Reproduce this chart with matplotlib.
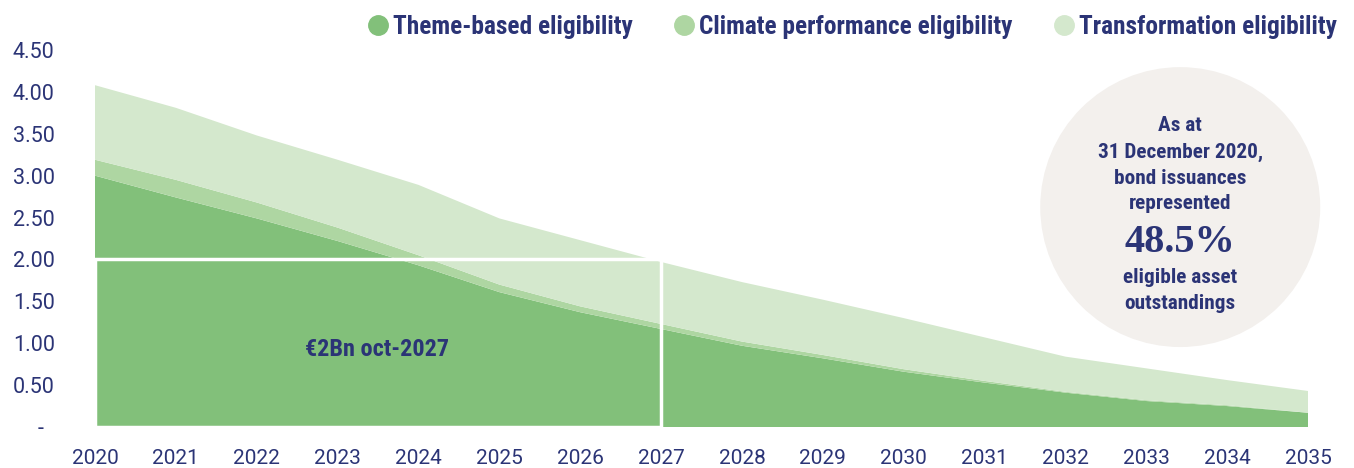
import matplotlib
matplotlib.use("Agg")
import matplotlib.pyplot as plt
from matplotlib.patches import Rectangle, Ellipse
from matplotlib.lines import Line2D

plt.rcParams['font.family'] = ['Roboto Condensed', 'Roboto', 'DejaVu Sans']

years = list(range(2020, 2036))
theme = [3.00, 2.74, 2.49, 2.22, 1.93, 1.61, 1.37, 1.17, 0.97, 0.82, 0.66, 0.53, 0.41, 0.31, 0.25, 0.17]
climate_top = [3.19, 2.95, 2.68, 2.38, 2.05, 1.70, 1.44, 1.23, 1.02, 0.86, 0.69, 0.55, 0.42, 0.32, 0.26, 0.17]
total = [4.08, 3.81, 3.48, 3.19, 2.89, 2.49, 2.23, 1.97, 1.73, 1.52, 1.30, 1.07, 0.84, 0.70, 0.56, 0.43]
climate = [c - t for c, t in zip(climate_top, theme)]
transform = [a - c for a, c in zip(total, climate_top)]
series_names = ["Theme-based eligibility", "Climate performance eligibility", "Transformation eligibility"]
yticks = [0, 0.5, 1.0, 1.5, 2.0, 2.5, 3.0, 3.5, 4.0, 4.5]
ytick_labels = ["-  ", "0.50", "1.00", "1.50", "2.00", "2.50", "3.00", "3.50", "4.00", "4.50"]

colors = ["#82c07a", "#aed6a2", "#d4e8cd"]
navy = "#2b3476"

W, H = 1354, 468
fig = plt.figure(figsize=(W / 100, H / 100), dpi=100)
ax = fig.add_axes([95 / W, (H - 427) / H, (1308 - 95) / W, (427 - 50) / H])
ax.stackplot(years, theme, climate, transform, colors=colors, linewidth=0)

# bracket box for the EUR 2bn bond
ax.add_patch(Rectangle((2020, 0), 7, 2.0, fill=False, edgecolor="white", lw=2.5, clip_on=False, zorder=3))
ax.text(2023.49, 0.92, "€2Bn oct-2027", color=navy, fontsize=17.5, fontweight="bold", ha="center", va="center")

# circle callout
cx = 2033.42
ax.add_patch(Ellipse((cx, 2.625), 280 / 80.87, 280 / 83.8, facecolor="#f3f0ed", edgecolor="none",
                     clip_on=False, zorder=4))
lines_top = ["As at", "31 December 2020,", "bond issuances", "represented"]
ys = [3.6, 3.28, 2.97, 2.67]
for s, y in zip(lines_top, ys):
    ax.text(cx, y, s, color=navy, fontsize=15.3, fontweight="bold", ha="center", va="center", zorder=5)
ax.text(cx, 2.2, "48.5%", color=navy, fontsize=29, fontweight="bold", ha="center", va="center",
        family="Liberation Serif", zorder=5)
ax.text(cx, 1.78, "eligible asset", color=navy, fontsize=15.3, fontweight="bold", ha="center", va="center", zorder=5)
ax.text(cx, 1.48, "outstandings", color=navy, fontsize=15.3, fontweight="bold", ha="center", va="center", zorder=5)

ax.set_xlim(2020, 2035)
ax.set_ylim(0, 4.5)
ax.set_xticks(years)
ax.set_xticklabels([str(y) for y in years], fontsize=15, color=navy, family="Roboto")
ax.set_yticks(yticks)
ax.set_yticklabels(ytick_labels, fontsize=15.5, color=navy, family="Roboto")
ax.tick_params(length=0)
ax.tick_params(axis="y", pad=29)
ax.tick_params(axis="x", pad=16)
for sp in ax.spines.values():
    sp.set_visible(False)

handles = [Line2D([], [], marker="o", linestyle="none", markersize=14, color=c) for c in colors]
fig.legend(handles, series_names, loc="upper right", bbox_to_anchor=(1352 / W, 1.0), ncol=3, frameon=False,
           prop={"size": 18.3, "weight": "bold"}, labelcolor=navy, handlelength=0.8, handletextpad=0.2,
           columnspacing=1.6, borderaxespad=0.2)

fig.savefig("out.png", dpi=100)
